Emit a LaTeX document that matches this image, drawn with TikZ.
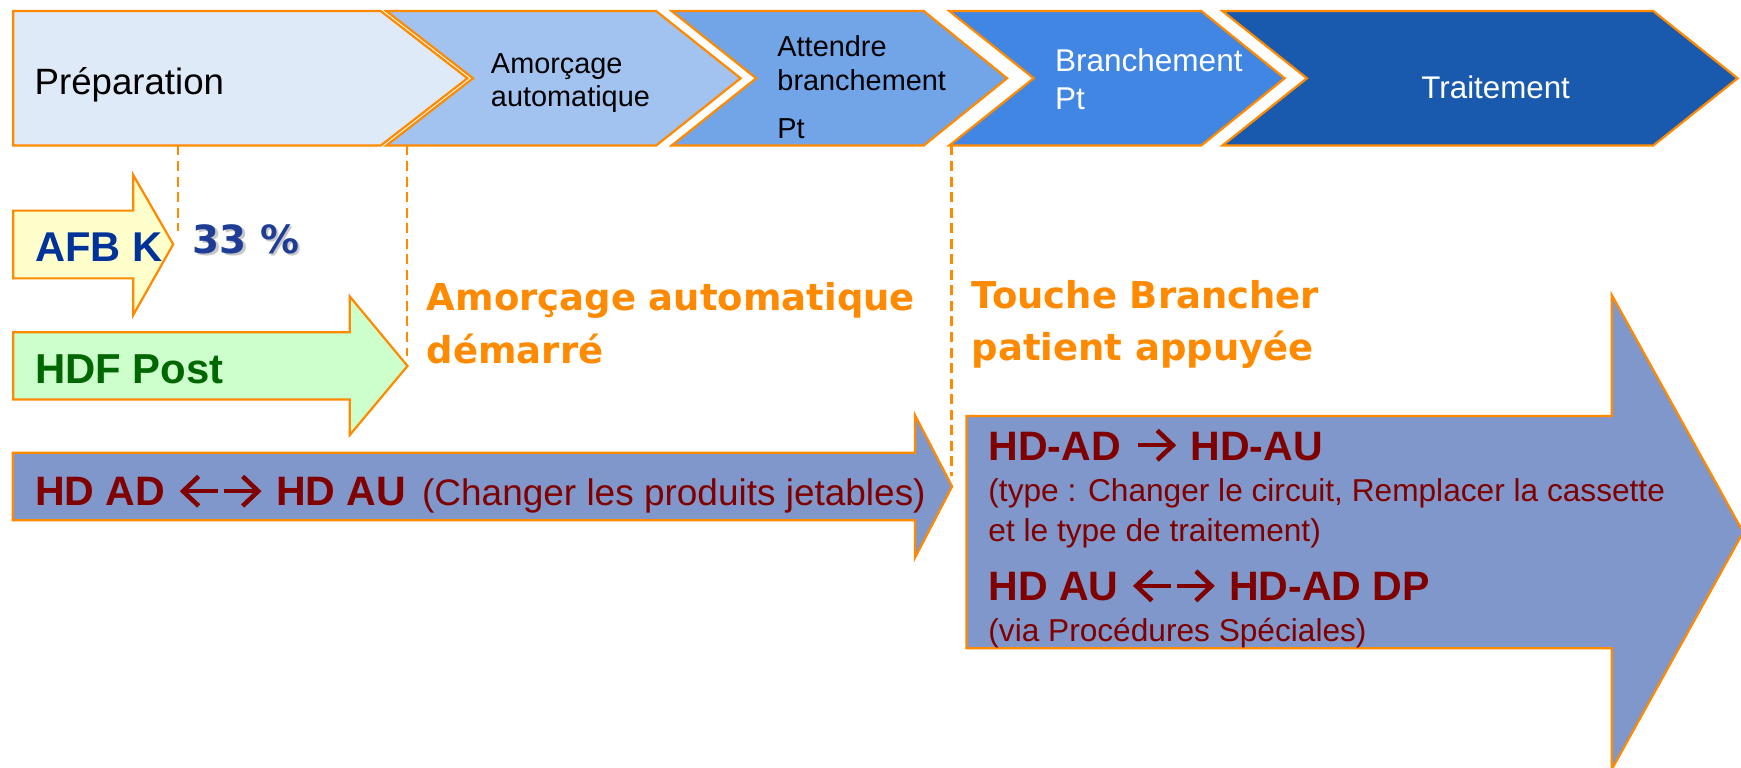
\documentclass[tikz,border=0pt]{standalone}
\usepackage{fontspec}
\setmainfont{Liberation Sans}
\newfontfamily\dvfont{DejaVu Sans}
\newcommand\fsz[1]{\fontsize{#1}{#1}\selectfont}
\definecolor{org}{HTML}{FF8A00}
\definecolor{prepc}{HTML}{DFEAF8}
\definecolor{amorc}{HTML}{A2C2F0}
\definecolor{attc}{HTML}{72A4E8}
\definecolor{branc}{HTML}{4286E3}
\definecolor{traic}{HTML}{1A5AAE}
\definecolor{arrc}{HTML}{7F97CA}
\definecolor{dred}{HTML}{800000}
\definecolor{afbc}{HTML}{003399}
\definecolor{pctc}{HTML}{1F3C96}
\definecolor{hdfc}{HTML}{006600}
\definecolor{yel}{HTML}{FFFFCC}
\definecolor{grn}{HTML}{CCFFCC}
% chevron-headed arrows drawn as small inline pictures
\newcommand\arR{\tikz[x=1em,y=1em,baseline=0pt]{\draw[dred,line width=0.1em] (0,0.36)--(0.84,0.36); \draw[dred,line width=0.11em,line join=miter] (0.46,0.0)--(0.84,0.36)--(0.46,0.72);}\hspace{0.1em}}
\newcommand\arL{\hspace{0.1em}\tikz[x=1em,y=1em,baseline=0pt]{\draw[dred,line width=0.1em] (0.86,0.36)--(0.02,0.36); \draw[dred,line width=0.11em,line join=miter] (0.40,0.0)--(0.02,0.36)--(0.40,0.72);}}
\tikzset{
  shp/.style={draw=org, line width=2pt, line join=miter},
  lbl/.style={inner sep=0pt, anchor=base west},
  dashline/.style={draw=org, line width=2pt, dash pattern=on 9pt off 5pt},
  toptxt/.style={lbl, font=\fsz{26}, text=black},
  whtxt/.style={lbl, font=\fsz{28.4}, text=white},
  orgtxt/.style={lbl, font=\dvfont\bfseries\fsz{33.3}, text=org},
  redbold/.style={lbl, font=\bfseries\fsz{37}, text=dred},
  redreg/.style={lbl, font=\fsz{28.5}, text=dred},
}
\begin{document}
\begin{tikzpicture}[x=1pt,y=-1pt]
\useasboundingbox (0,0) rectangle (1568,691);
\clip (0,0) rectangle (1568,691);

% dashed guide lines
\coordinate (d1a) at (160,131); \coordinate (d1b) at (160,208);
\coordinate (d2a) at (366.5,131); \coordinate (d2b) at (366.5,321);
\coordinate (d3a) at (857,131); \coordinate (d3b) at (857,429);
\draw[dashline] (d1a) -- (d1b);
\draw[dashline] (d2a) -- (d2b);
\draw[dashline] (d3a) -- (d3b);

% top chevrons
\path[shp, fill=traic] (1101,10) -- (1489,10) -- (1565,70.5) -- (1489,131) -- (1101,131) -- (1177,70.5) -- cycle;
\path[shp, fill=branc] (855,10) -- (1082,10) -- (1157,70.5) -- (1082,131) -- (855,131) -- (931,70.5) -- cycle;
\path[shp, fill=attc] (605,10) -- (832,10) -- (907,70.5) -- (832,131) -- (605,131) -- (681,70.5) -- cycle;
\path[shp, fill=amorc] (348,10) -- (591,10) -- (667,70.5) -- (591,131) -- (348,131) -- (426,70.5) -- cycle;
\path[shp, fill=prepc] (12,10) -- (343,10) -- (421,70.5) -- (343,131) -- (12,131) -- cycle;

\node[lbl, font=\fsz{33}] (prep) at (31,84.7) {Préparation};
\node[toptxt] (am1) at (442,66) {Amorçage};
\node[toptxt] (am2) at (442,95.5) {automatique};
\node[toptxt] (at1) at (700,51) {Attendre};
\node[toptxt] (at2) at (700,81.7) {branchement};
\node[toptxt] (at3) at (700,124.6) {Pt};
\node[whtxt] (br1) at (950,64.5) {Branchement};
\node[whtxt] (br2) at (950,98.5) {Pt};
\node[whtxt, font=\fsz{28.2}] (tr) at (1280,88.6) {Traitement};

% AFB K arrow
\path[shp, fill=yel] (12,189.7) -- (120,189.7) -- (120,157.6) -- (156,220) -- (120,283.7) -- (120,250.7) -- (12,250.7) -- cycle;
\node[lbl, font=\bfseries\fsz{37.5}, text=afbc] (afb) at (31.5,235.7) {AFB K};
\node[lbl, font=\dvfont\bfseries\fsz{35}, text=black!22] (pcts) at (175.5,230.5) {33 \%};
\node[lbl, font=\dvfont\bfseries\fsz{35}, text=pctc] (pct) at (173.5,228) {33 \%};

% HDF Post arrow
\path[shp, fill=grn] (12,299.3) -- (315,299.3) -- (315,267) -- (367,329.6) -- (315,391.8) -- (315,359.7) -- (12,359.7) -- cycle;
\node[lbl, font=\bfseries\fsz{37.7}, text=hdfc] (hdf) at (31.5,345) {HDF Post};

% orange event texts
\node[orgtxt] (ev1a) at (384.3,280) {Amorçage automatique};
\node[orgtxt] (ev1b) at (384.3,327) {démarré};
\node[orgtxt] (ev2a) at (875,278) {Touche Brancher};
\node[orgtxt] (ev2b) at (875,325) {patient appuyée};

% HD AD arrow
\path[shp, fill=arrc] (11.4,407.7) -- (824,407.7) -- (824,373.8) -- (857.5,438.1) -- (824,502.4) -- (824,468.5) -- (11.4,468.5) -- cycle;
\node[redbold] (hdad) at (31.5,455.7) {HD AD \arL\hspace{0.05em}\arR{} HD AU};
\node[lbl, font=\fsz{33.3}, text=dred] (hdad2) at (380,455.7) {(Changer les produits jetables)};

% big arrow
\path[shp, fill=arrc] (870.5,374.7) -- (1451.6,374.7) -- (1451.6,265.7) -- (1570,479.3) -- (1451.6,692.9) -- (1451.6,583.9) -- (870.5,583.9) -- cycle;
\node[redbold] (b1) at (890,414.3) {HD-AD \hspace{0.1em}\arR{} HD-AU};
\node[redreg] (b2) at (890,451.8) {(type : Changer le circuit, Remplacer la cassette};
\node[redreg] (b3) at (890,487.8) {et le type de traitement)};
\node[redbold] (b4) at (890,541) {HD AU \arL\hspace{0.05em}\arR{} HD-AD DP};
\node[redreg] (b5) at (890,578) {(via Procédures Spéciales)};
\end{tikzpicture}
\end{document}
